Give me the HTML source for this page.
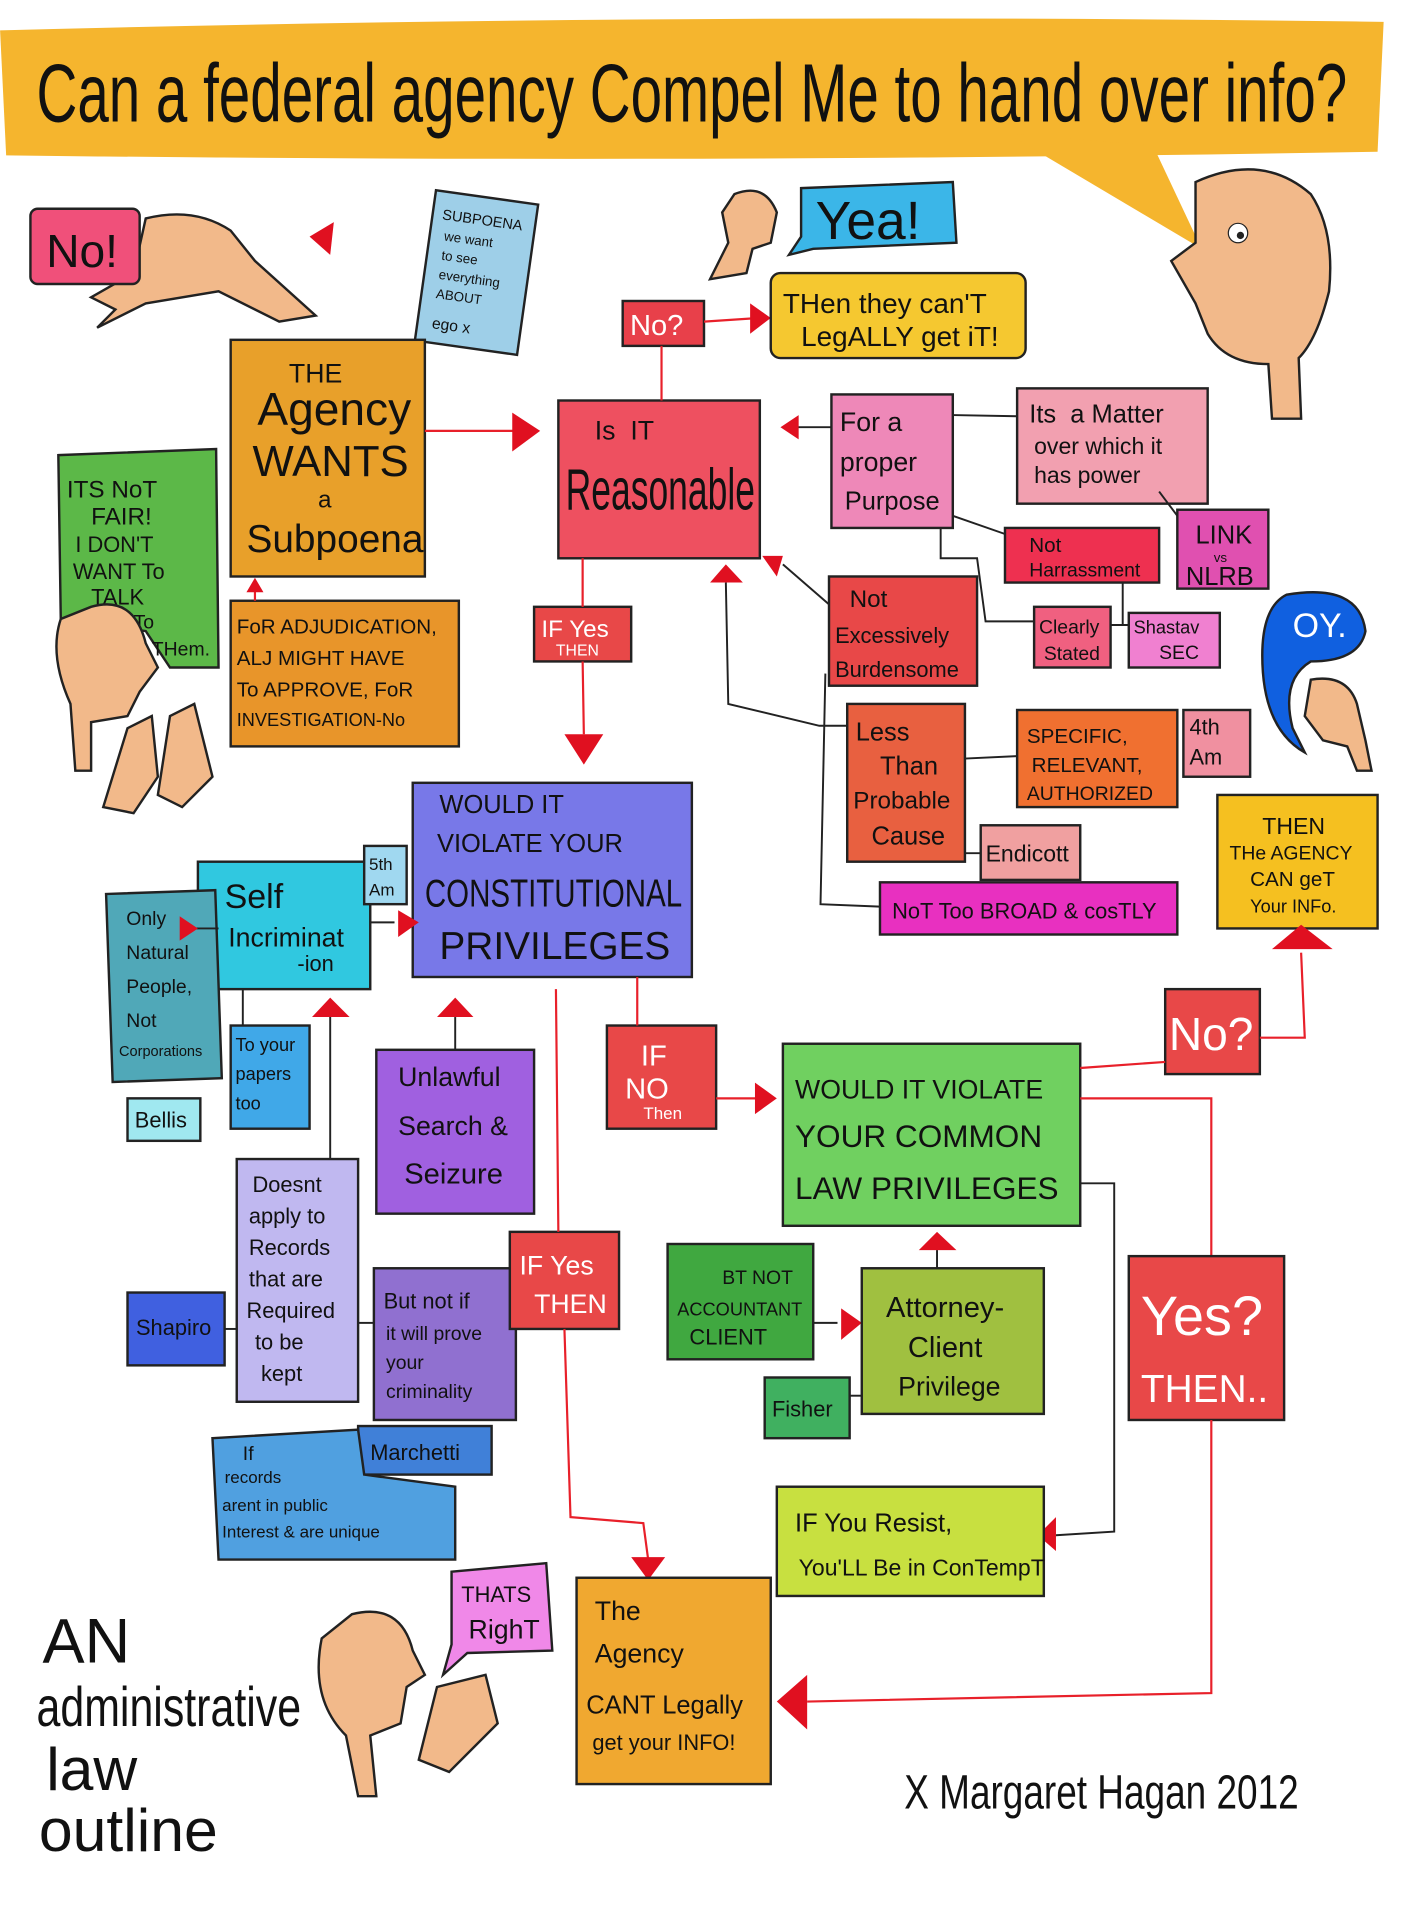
<!DOCTYPE html>
<html><head><meta charset="utf-8"><style>
html,body{margin:0;padding:0;background:#fff;}
svg{display:block;}
text{font-family:"Liberation Sans Narrow","Liberation Sans",sans-serif;fill:#111;}
.b{stroke:#222;stroke-width:2;}
.l{stroke:#222;stroke-width:1.6;fill:none;}
.r{stroke:#e8202a;stroke-width:1.8;fill:none;}
.t{fill:#e01020;}
</style></head><body>
<svg width="1408" height="1920" viewBox="0 0 1160 1582" xmlns="http://www.w3.org/2000/svg">
<path d="M0 25 Q570 10 1140 18 L1135 125 Q570 135 5 128 Z" fill="#f5b52e"/>
<path d="M830 110 L990 205 L950 120 Z" fill="#f5b52e"/>
<text x="30" y="100" font-size="68" textLength="1080" lengthAdjust="spacingAndGlyphs">Can a federal agency Compel Me to hand over info?</text>

<path d="M985 150 Q1040 125 1080 160 Q1100 190 1095 240 Q1085 280 1070 295 L1072 345 L1048 345 L1045 300 Q1010 300 995 275 L985 250 L965 215 L985 200 Z" fill="#f2b98a" stroke="#222" stroke-width="2"/>
<circle cx="1020" cy="192" r="8" fill="#fff" stroke="#222"/><circle cx="1022" cy="194" r="3" fill="#222"/>
<path d="M120 180 Q160 170 190 190 L210 215 L260 260 L230 265 L180 240 L120 250 L80 270 L95 255 L75 245 L110 225 Z" fill="#f2b98a" stroke="#222" stroke-width="2"/>
<rect x="25" y="172" width="90" height="62" rx="6" fill="#f0507a" class="b"/>
<text x="38" y="220" font-size="38">No!</text>
<path class="t" d="M255 195 L275 183 L272 210 Z"/>
<g transform="rotate(8 392 225)"><rect x="350" y="162" width="85" height="125" fill="#9ecfe8" class="b"/>
<text x="358" y="185" font-size="12">SUBPOENA</text><text x="362" y="202" font-size="11">we want</text><text x="362" y="218" font-size="11">to see</text><text x="362" y="234" font-size="11">everything</text><text x="362" y="250" font-size="11">ABOUT</text><text x="362" y="275" font-size="13">ego x</text></g>
<path d="M605 160 Q630 150 640 175 L635 200 L620 205 L615 225 L585 230 L600 200 L595 175 Z" fill="#f2b98a" stroke="#222" stroke-width="2"/>
<path d="M660 155 L785 150 L788 200 L670 205 L650 210 L660 195 Z" fill="#3bb6e8" class="b"/>
<text x="672" y="197" font-size="44">Yea!</text>
<rect x="513" y="248" width="67" height="37" fill="#e8404a" class="b"/>
<text x="519" y="276" font-size="24" style="fill:#fff">No?</text>
<path class="r" d="M580 265 L625 262"/><path class="t" d="M618 250 L635 262 L618 275 Z"/>
<rect x="635" y="225" width="210" height="70" rx="8" fill="#f5c830" class="b"/>
<text x="645" y="258" font-size="23">THen they can'T</text><text x="660" y="285" font-size="23">LegALLY get iT!</text>

<rect x="190" y="280" width="160" height="195" fill="#e8a02a" class="b"/>
<text x="238" y="315" font-size="22">THE</text><text x="212" y="350" font-size="38">Agency</text>
<text x="208" y="392" font-size="36">WANTS</text><text x="262" y="418" font-size="20">a</text>
<text x="203" y="455" font-size="32">Subpoena</text>
<path class="r" d="M350 355 L425 355"/><path class="t" d="M422 340 L445 355 L422 372 Z"/>
<path d="M48 375 L178 370 L180 550 L140 550 L120 520 L50 510 Z" fill="#5cb848" class="b"/>
<text x="55" y="410" font-size="20">ITS NoT</text><text x="75" y="432" font-size="20">FAIR!</text>
<text x="62" y="455" font-size="18">I DON'T</text><text x="60" y="477" font-size="18">WANT To</text>
<text x="75" y="498" font-size="18">TALK</text><text x="110" y="518" font-size="16">To</text><text x="125" y="540" font-size="16">THem.</text>
<path d="M75 500 Q110 490 120 530 L130 550 L115 570 L105 590 L75 595 L75 635 L62 635 L58 580 Q40 540 50 510 Z" fill="#f2b98a" stroke="#222" stroke-width="2"/>
<path d="M85 665 L105 600 L125 590 L130 640 L110 670 Z M130 655 L140 590 L160 580 L175 640 L150 665 Z" fill="#f2b98a" stroke="#222" stroke-width="2"/>
<rect x="190" y="495" width="188" height="120" fill="#e8952a" class="b"/>
<path class="r" d="M210 495 L210 482"/><path class="t" d="M203 488 L210 476 L217 488 Z"/>
<text x="195" y="522" font-size="17">FoR ADJUDICATION,</text><text x="195" y="548" font-size="17">ALJ MIGHT HAVE</text>
<text x="195" y="574" font-size="17">To APPROVE, FoR</text><text x="195" y="598" font-size="15">INVESTIGATION-No</text>

<rect x="460" y="330" width="166" height="130" fill="#ee5060" class="b"/>
<path class="r" d="M545 285 L545 330"/>
<text x="490" y="362" font-size="22">Is&#160;&#160;IT</text>
<text x="466" y="420" font-size="48" textLength="156" lengthAdjust="spacingAndGlyphs">Reasonable</text>
<rect x="685" y="325" width="100" height="110" fill="#ee88b8" class="b"/>
<text x="692" y="355" font-size="22">For a</text><text x="692" y="388" font-size="22">proper</text><text x="696" y="420" font-size="21">Purpose</text>
<path class="l" d="M685 352 L655 352"/><path class="t" d="M658 342 L643 352 L658 362 Z"/>
<rect x="838" y="320" width="157" height="95" fill="#f2a0b0" class="b"/>
<text x="848" y="348" font-size="21">Its&#160; a Matter</text><text x="852" y="374" font-size="19">over which it</text><text x="852" y="398" font-size="19">has power</text>
<path class="l" d="M785 342 L838 343"/>
<rect x="828" y="435" width="127" height="45" fill="#ee3050" class="b"/>
<text x="848" y="455" font-size="17">Not</text><text x="848" y="475" font-size="16">Harrassment</text>
<path class="l" d="M785 425 L828 440"/>
<rect x="970" y="420" width="75" height="65" fill="#e050b0" class="b"/>
<text x="985" y="448" font-size="21">LINK</text><text x="1000" y="463" font-size="11">vs</text><text x="977" y="482" font-size="21">NLRB</text>
<path class="l" d="M955 405 L970 425"/>
<rect x="683" y="475" width="122" height="90" fill="#e84848" class="b"/>
<text x="700" y="500" font-size="20">Not</text><text x="688" y="530" font-size="18">Excessively</text><text x="688" y="558" font-size="18">Burdensome</text>
<path class="l" d="M683 498 L645 465"/><path class="t" d="M628 458 L645 458 L640 475 Z"/>
<rect x="852" y="500" width="63" height="50" fill="#f06080" class="b"/>
<text x="856" y="522" font-size="16">Clearly</text><text x="860" y="544" font-size="16">Stated</text>
<path class="l" d="M775 435 L775 460 L805 460 L812 512 L852 512"/>
<rect x="930" y="505" width="75" height="45" fill="#f080d0" class="b"/>
<text x="934" y="522" font-size="15">Shastav</text><text x="955" y="543" font-size="16">SEC</text>
<path class="l" d="M915 515 L930 515 M925 480 L925 515"/>
<path d="M1060 490 Q1120 480 1125 520 Q1120 545 1080 545 Q1055 560 1065 600 L1075 620 Q1040 600 1040 540 Q1040 500 1060 490 Z" fill="#1060e0" stroke="#222" stroke-width="2"/>
<text x="1065" y="525" font-size="28" style="fill:#fff">OY.</text>
<path d="M1080 560 Q1110 555 1118 580 L1125 610 L1130 635 L1118 635 L1110 615 L1090 610 L1075 590 Z" fill="#f2b98a" stroke="#222" stroke-width="2"/>
<rect x="440" y="500" width="80" height="45" fill="#e84848" class="b"/>
<text x="446" y="525" font-size="20" style="fill:#fff">IF Yes</text><text x="458" y="540" font-size="13" style="fill:#fff">THEN</text>
<path class="r" d="M480 460 L480 500 M480 545 L481 605"/><path class="t" d="M465 605 L497 605 L481 630 Z"/>
<rect x="698" y="580" width="97" height="130" fill="#e86040" class="b"/>
<text x="705" y="610" font-size="21">Less</text><text x="725" y="638" font-size="21">Than</text>
<text x="703" y="666" font-size="20">Probable</text><text x="718" y="696" font-size="21">Cause</text>
<path class="l" d="M698 598 L675 598 L600 580 L598 480"/><path class="t" d="M585 480 L598 465 L612 480 Z"/>
<rect x="838" y="585" width="132" height="80" fill="#f07030" class="b"/>
<text x="846" y="612" font-size="17">SPECIFIC,</text><text x="850" y="636" font-size="17">RELEVANT,</text><text x="846" y="659" font-size="16">AUTHORIZED</text>
<path class="l" d="M795 625 L838 623"/>
<rect x="975" y="585" width="55" height="55" fill="#f090a0" class="b"/>
<text x="980" y="605" font-size="18">4th</text><text x="980" y="630" font-size="18">Am</text>
<rect x="808" y="680" width="82" height="45" fill="#f0a0a0" class="b"/>
<text x="812" y="710" font-size="19">Endicott</text>
<path class="l" d="M795 703 L808 703 M680 555 L676 745 L725 747"/>
<rect x="725" y="727" width="245" height="43" fill="#e830c0" class="b"/>
<text x="735" y="757" font-size="18">NoT Too BROAD &amp; cosTLY</text>
<rect x="1003" y="655" width="132" height="110" fill="#f5c020" class="b"/>
<text x="1040" y="687" font-size="19">THEN</text><text x="1013" y="708" font-size="16">THe AGENCY</text>
<text x="1030" y="730" font-size="17">CAN geT</text><text x="1030" y="752" font-size="15">Your INFo.</text>
<path class="t" d="M1048 782 L1072 762 L1098 782 Z"/>

<rect x="340" y="645" width="230" height="160" fill="#7878e8" class="b"/>
<text x="362" y="670" font-size="21">WOULD IT</text><text x="360" y="702" font-size="21">VIOLATE YOUR</text>
<text x="350" y="747" font-size="32" textLength="212" lengthAdjust="spacingAndGlyphs">CONSTITUTIONAL</text>
<text x="362" y="790" font-size="32">PRIVILEGES</text>
<rect x="163" y="710" width="142" height="105" fill="#30c8e0" class="b"/>
<text x="185" y="748" font-size="28">Self</text><text x="188" y="780" font-size="22">Incriminat</text><text x="245" y="800" font-size="18">-ion</text>
<path class="l" d="M305 760 L325 760"/><path class="t" d="M328 750 L345 760 L328 772 Z"/>
<rect x="300" y="697" width="35" height="48" fill="#a0d8f0" class="b"/>
<text x="304" y="717" font-size="14">5th</text><text x="304" y="738" font-size="14">Am</text>
<rect x="90" y="735" width="90" height="155" fill="#50a8b8" class="b" transform="rotate(-2 135 812)"/>
<text x="104" y="762" font-size="16">Only</text><text x="104" y="790" font-size="16">Natural</text><text x="104" y="818" font-size="16">People,</text>
<text x="104" y="846" font-size="16">Not</text><text x="98" y="870" font-size="12">Corporations</text>
<path class="l" d="M180 765 L150 765"/><path class="t" d="M148 755 L163 765 L148 775 Z"/>
<rect x="190" y="845" width="65" height="85" fill="#40a8e8" class="b"/>
<text x="194" y="866" font-size="15">To your</text><text x="194" y="890" font-size="15">papers</text><text x="194" y="914" font-size="15">too</text>
<path class="l" d="M200 815 L200 845"/>
<rect x="105" y="905" width="60" height="35" fill="#a0e8f0" class="b"/>
<text x="111" y="929" font-size="18">Bellis</text>
<rect x="310" y="865" width="130" height="135" fill="#a060e0" class="b"/>
<text x="328" y="895" font-size="22">Unlawful</text><text x="328" y="935" font-size="22">Search &amp;</text><text x="333" y="975" font-size="24">Seizure</text>
<path class="l" d="M375 865 L375 838"/><path class="t" d="M360 838 L375 822 L390 838 Z"/>
<path class="l" d="M272 960 L272 838"/><path class="t" d="M257 838 L272 822 L288 838 Z"/>
<rect x="500" y="845" width="90" height="85" fill="#e84848" class="b"/>
<text x="528" y="878" font-size="24" style="fill:#fff">IF</text><text x="515" y="905" font-size="24" style="fill:#fff">NO</text><text x="530" y="922" font-size="14" style="fill:#fff">Then</text>
<path class="r" d="M525 805 L525 845 M590 905 L625 905"/><path class="t" d="M622 892 L640 905 L622 918 Z"/>
<rect x="645" y="860" width="245" height="150" fill="#70d060" class="b"/>
<text x="655" y="905" font-size="22">WOULD IT VIOLATE</text><text x="655" y="945" font-size="26">YOUR COMMON</text>
<text x="655" y="988" font-size="26">LAW PRIVILEGES</text>
<rect x="960" y="815" width="78" height="70" fill="#e84848" class="b"/>
<text x="963" y="865" font-size="38" style="fill:#fff">No?</text>
<path class="r" d="M890 880 L960 875 M1038 855 L1075 855 L1072 785"/>
<path class="r" d="M890 905 L998 905 L998 1035"/>
<rect x="930" y="1035" width="128" height="135" fill="#e84848" class="b"/>
<text x="940" y="1100" font-size="46" style="fill:#fff">Yes?</text><text x="940" y="1155" font-size="32" style="fill:#fff">THEN..</text>
<path class="r" d="M998 1170 L998 1395 L665 1402"/><path class="t" d="M665 1380 L640 1402 L665 1425 Z"/>
<path class="l" d="M890 975 L918 975 L918 1262 L870 1265"/><path class="t" d="M870 1250 L855 1265 L870 1278 Z"/>

<rect x="195" y="955" width="100" height="200" fill="#c0b8f0" class="b"/>
<text x="208" y="982" font-size="18">Doesnt</text><text x="205" y="1008" font-size="18">apply to</text><text x="205" y="1034" font-size="18">Records</text>
<text x="205" y="1060" font-size="18">that are</text><text x="203" y="1086" font-size="18">Required</text><text x="210" y="1112" font-size="18">to be</text><text x="215" y="1138" font-size="18">kept</text>
<rect x="105" y="1065" width="80" height="60" fill="#4060e0" class="b"/>
<text x="112" y="1100" font-size="18">Shapiro</text>
<path class="l" d="M185 1095 L195 1095"/>
<rect x="308" y="1045" width="117" height="125" fill="#9070d0" class="b"/>
<text x="316" y="1078" font-size="18">But not if</text><text x="318" y="1104" font-size="16">it will prove</text><text x="318" y="1128" font-size="16">your</text><text x="318" y="1152" font-size="16">criminality</text>
<path class="l" d="M295 1090 L308 1090"/>
<rect x="420" y="1015" width="90" height="80" fill="#e84848" class="b"/>
<text x="428" y="1050" font-size="22" style="fill:#fff">IF Yes</text><text x="440" y="1082" font-size="22" style="fill:#fff">THEN</text>
<path class="r" d="M458 815 L460 1015 M465 1095 L470 1250 L530 1255 L534 1285"/><path class="t" d="M520 1283 L548 1283 L534 1302 Z"/>
<rect x="295" y="1175" width="110" height="40" fill="#4080d8" class="b"/>
<text x="305" y="1203" font-size="18">Marchetti</text>
<path d="M175 1185 L295 1178 L300 1215 L375 1225 L375 1285 L180 1285 Z" fill="#50a0e0" class="b"/>
<text x="200" y="1203" font-size="16">If</text><text x="185" y="1222" font-size="14">records</text>
<text x="183" y="1245" font-size="14">arent in public</text><text x="183" y="1267" font-size="14">Interest &amp; are unique</text>

<rect x="550" y="1025" width="120" height="95" fill="#40a840" class="b"/>
<text x="595" y="1058" font-size="16">BT NOT</text><text x="558" y="1084" font-size="15">ACCOUNTANT</text><text x="568" y="1108" font-size="18">CLIENT</text>
<path class="l" d="M670 1090 L690 1090"/><path class="t" d="M693 1078 L710 1090 L693 1104 Z"/>
<rect x="710" y="1045" width="150" height="120" fill="#a0c040" class="b"/>
<text x="730" y="1085" font-size="24">Attorney-</text><text x="748" y="1118" font-size="24">Client</text><text x="740" y="1150" font-size="22">Privilege</text>
<path class="l" d="M772 1045 L772 1030"/><path class="t" d="M757 1030 L772 1015 L788 1030 Z"/>
<rect x="630" y="1135" width="70" height="50" fill="#40b060" class="b"/>
<text x="636" y="1167" font-size="18">Fisher</text>
<path class="l" d="M700 1150 L710 1150"/>
<rect x="640" y="1225" width="220" height="90" fill="#c8e040" class="b"/>
<text x="655" y="1262" font-size="21">IF You Resist,</text><text x="658" y="1298" font-size="19">You'LL Be in ConTempT</text>
<rect x="475" y="1300" width="160" height="170" fill="#f0a830" class="b"/>
<text x="490" y="1335" font-size="22">The</text><text x="490" y="1370" font-size="22">Agency</text>
<text x="483" y="1412" font-size="21">CANT Legally</text><text x="488" y="1442" font-size="18">get your INFO!</text>
<path d="M290 1330 Q330 1320 340 1360 L350 1380 L335 1390 L330 1420 L305 1430 L310 1480 L295 1480 L285 1430 Q255 1400 265 1350 Z" fill="#f2b98a" stroke="#222" stroke-width="2"/>
<path d="M345 1450 L360 1390 L400 1380 L410 1420 L370 1460 Z" fill="#f2b98a" stroke="#222" stroke-width="2"/>
<path d="M372 1295 L450 1288 L455 1360 L385 1362 L365 1380 L372 1355 Z" fill="#f088e8" class="b"/>
<text x="380" y="1320" font-size="18">THATS</text><text x="386" y="1350" font-size="22">RighT</text>
<text x="35" y="1370" font-size="52">AN</text>
<text x="30" y="1422" font-size="46" textLength="218" lengthAdjust="spacingAndGlyphs">administrative</text>
<text x="38" y="1475" font-size="50">law</text>
<text x="32" y="1525" font-size="50">outline</text>
<text x="745" y="1490" font-size="40" textLength="325" lengthAdjust="spacingAndGlyphs">X Margaret Hagan 2012</text>
</svg>
</body></html>
